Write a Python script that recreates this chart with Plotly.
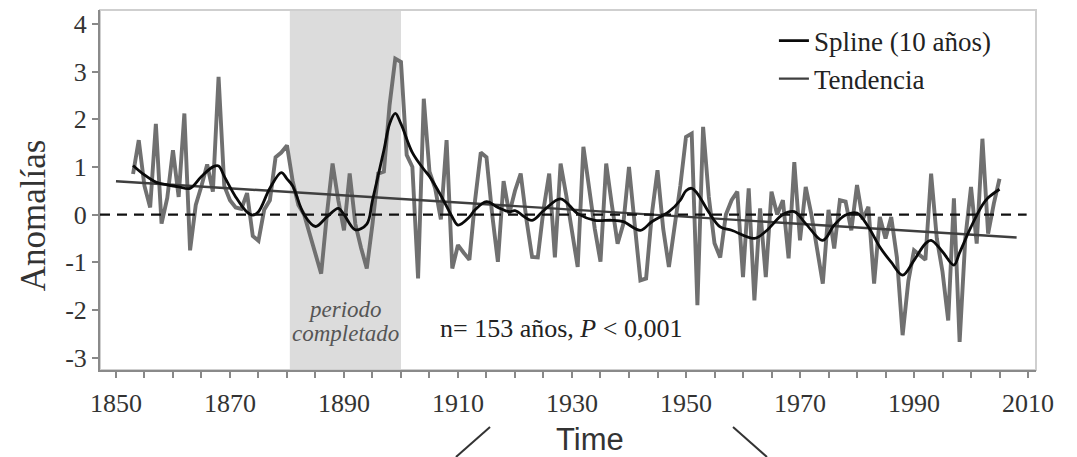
import plotly.graph_objects as go

# Annual anomalies, 1853-2005 (n = 153)
years = list(range(1853, 2006))
anomalies = [
    0.85, 1.56, 0.60, 0.15, 1.90, -0.19, 0.35, 1.35, 0.37, 2.12,   # 1853-1862
    -0.75, 0.20, 0.60, 1.05, 0.48, 2.89, 0.60, 0.30, 0.15, 0.12,   # 1863-1872
    0.45, -0.45, -0.55, 0.10, 0.30, 1.20, 1.30, 1.45, 0.70, 0.20,  # 1873-1882
    0.00, -0.40, -0.85, -1.24, 0.00, 1.07, 0.30, -0.33, 0.86, -0.20,  # 1883-1892
    -0.70, -1.13, -0.20, 0.86, 0.90, 2.30, 3.27, 3.20, 1.25, 1.00,  # 1893-1902
    -1.34, 2.43, 0.90, 0.55, -0.10, 1.56, -1.13, -0.64, -0.80, -0.95,  # 1903-1912
    0.30, 1.30, 1.20, 0.00, -0.99, 0.70, 0.02, 0.50, 0.86, -0.10,  # 1913-1922
    -0.89, -0.90, 0.10, 0.86, -0.90, 1.07, 0.40, -0.40, -1.10, 1.42,  # 1923-1932
    0.50, -0.30, -0.99, 1.07, 0.20, -0.61, -0.20, 1.00, -0.20, -1.38,  # 1933-1942
    -1.34, 0.00, 0.93, -0.30, -1.10, -0.30, 0.60, 1.63, 1.70, -1.90,  # 1943-1952
    1.84, 0.37, -0.60, -0.90, 0.00, 0.30, 0.48, -1.31, 0.55, -1.80,  # 1953-1962
    0.13, -1.31, 0.48, 0.00, 0.30, -0.92, 1.10, -0.54, 0.58, 0.00,  # 1963-1972
    -0.70, -1.45, 0.10, -0.71, 0.30, 0.27, -0.33, 0.62, -0.10, 0.16,  # 1973-1982
    -1.45, -0.05, -0.50, -0.05, -0.90, -2.53, -1.40, -0.75, -0.85, -0.95,  # 1983-1992
    0.86, -0.50, -1.20, -2.22, 0.34, -2.67, -0.50, 0.58, -0.61, 1.59,  # 1993-2002
    -0.40, 0.23, 0.75,                                              # 2003-2005
]

# 10-year smoothing spline
spline_years = [1853, 1855, 1857, 1859, 1861, 1863, 1865, 1867, 1868, 1869,
                1871, 1873, 1874, 1875, 1877, 1879, 1880, 1881, 1883, 1885,
                1887, 1889, 1890, 1892, 1894, 1895, 1897, 1898, 1899, 1900,
                1902, 1904, 1905, 1907, 1909, 1910, 1912, 1913, 1915, 1917,
                1919, 1920, 1923, 1925, 1928, 1931, 1934, 1937, 1939, 1942,
                1944, 1947, 1949, 1950, 1951, 1952, 1954, 1956, 1958, 1962,
                1964, 1967, 1969, 1971, 1974, 1976, 1978, 1980, 1982, 1984,
                1986, 1988, 1990, 1992, 1993, 1995, 1997, 1998, 2000, 2002,
                2003, 2005]
spline_vals = [1.03, 0.83, 0.68, 0.62, 0.58, 0.55, 0.80, 1.00, 1.02, 0.80,
               0.37, 0.05, -0.01, 0.06, 0.55, 0.88, 0.75, 0.60, 0.00, -0.25,
               -0.05, 0.13, 0.00, -0.32, -0.20, 0.30, 1.35, 1.90, 2.12, 1.90,
               1.30, 0.95, 0.80, 0.40, -0.05, -0.22, -0.05, 0.10, 0.27, 0.15,
               0.06, 0.08, -0.12, 0.08, 0.33, 0.02, -0.12, -0.12, -0.15, -0.33,
               -0.15, 0.06, 0.30, 0.50, 0.55, 0.44, 0.05, -0.26, -0.33, -0.50,
               -0.35, 0.00, 0.06, -0.19, -0.54, -0.22, -0.01, 0.03, -0.26, -0.68,
               -1.00, -1.27, -0.96, -0.61, -0.54, -0.78, -1.06, -0.80, -0.26, 0.20,
               0.35, 0.53]

# Linear trend end points
trend_years = [1850, 2008]
trend_vals = [0.70, -0.48]

# Infilled period
gap_start, gap_end = 1880.5, 1900.0

y_ticks = [4, 3, 2, 1, 0, -1, -2, -3]
y_ticktext = ["4", "3", "2", "1", "0", "-1", "-2", "-3"]

SERIF = "Liberation Serif"
SANS = "Liberation Sans"

fig = go.Figure()

fig.add_trace(go.Scatter(
    x=years, y=anomalies, mode="lines",
    line=dict(color="#707070", width=3.9),
    showlegend=False, hoverinfo="skip",
))
fig.add_trace(go.Scatter(
    x=trend_years, y=trend_vals, mode="lines",
    line=dict(color="#3f3f3f", width=2.4),
    name="Tendencia", legendgroup="t", legendrank=2,
))
fig.add_trace(go.Scatter(
    x=spline_years, y=spline_vals, mode="lines",
    line=dict(color="#0a0a0a", width=2.8, shape="spline", smoothing=1.0),
    name="Spline (10 años)", legendgroup="s", legendrank=1,
))

# shaded infilled period
fig.add_shape(type="rect", xref="x", yref="paper",
              x0=gap_start, x1=gap_end, y0=0, y1=1,
              fillcolor="#dcdcdc", line=dict(width=0), layer="below")
# light frame
fig.add_shape(type="rect", xref="paper", yref="paper", x0=0, x1=1, y0=0, y1=1,
              line=dict(color="#cfcfcf", width=2), layer="below")
# zero reference
fig.add_shape(type="line", xref="paper", yref="y", x0=0, x1=0.99, y0=0, y1=0,
              line=dict(color="#111111", width=2.2, dash="10px,7px"))

# leftover connector strokes under the axis title
fig.add_shape(type="line", xref="paper", yref="paper",
              x0=0.3803, y0=-0.2417, x1=0.4167, y1=-0.1583,
              line=dict(color="#333333", width=2))
fig.add_shape(type="line", xref="paper", yref="paper",
              x0=0.6763, y0=-0.1583, x1=0.7126, y1=-0.2417,
              line=dict(color="#333333", width=2))

fig.add_annotation(x=(gap_start + gap_end) / 2, y=-2.0, xref="x", yref="y",
                   xanchor="center", yanchor="middle",
                   text="<i>periodo</i>", showarrow=False,
                   font=dict(family=SERIF, size=23, color="#555555"))
fig.add_annotation(x=(gap_start + gap_end) / 2, y=-2.49, xref="x", yref="y",
                   xanchor="center", yanchor="middle",
                   text="<i>completado</i>", showarrow=False,
                   font=dict(family=SERIF, size=23, color="#555555"))
fig.add_annotation(x=1906.5, y=-2.38, xref="x", yref="y",
                   xanchor="left", yanchor="middle",
                   text="n= 153 años, <i>P</i> < 0,001", showarrow=False,
                   font=dict(family=SERIF, size=26, color="#222222"))
fig.add_annotation(x=-0.0716, y=0.43, xref="paper", yref="paper",
                   xanchor="center", yanchor="middle",
                   text="Anomalías", textangle=-90, showarrow=False,
                   font=dict(family=SERIF, size=35, color="#333333"))
fig.add_annotation(x=0.5235, y=-0.194, xref="paper", yref="paper",
                   xanchor="center", yanchor="middle",
                   text="Time", showarrow=False,
                   font=dict(family=SANS, size=31, color="#333333"))

fig.update_layout(
    width=1077, height=457,
    margin=dict(l=100, r=41, t=10, b=87),
    paper_bgcolor="white", plot_bgcolor="white",
    showlegend=True,
    legend=dict(x=0.72, y=0.982, xanchor="left", yanchor="top",
                bgcolor="rgba(0,0,0,0)", borderwidth=0,
                font=dict(family=SERIF, size=27, color="#222222"),
                tracegroupgap=0, traceorder="grouped"),
    xaxis=dict(range=[1847.2, 2011.4], tick0=1850, dtick=20,
               ticks="outside", ticklen=6, tickwidth=1.5, tickcolor="#888888",
               ticklabelstandoff=3,
               showline=True, linecolor="#8a8a8a", linewidth=2,
               showgrid=False, zeroline=False,
               minor=dict(dtick=5, tick0=1850, ticks="outside", ticklen=6,
                          tickwidth=1.5, tickcolor="#888888", showgrid=False),
               tickfont=dict(family=SERIF, size=26, color="#333333")),
    yaxis=dict(range=[-3.26, 4.29], tickvals=y_ticks, ticktext=y_ticktext,
               ticks="outside", ticklen=6, tickwidth=1.5, tickcolor="#888888",
               showline=True, linecolor="#8a8a8a", linewidth=2,
               showgrid=False, zeroline=False,
               tickfont=dict(family=SERIF, size=26, color="#333333")),
)

fig.write_html("out.html")
